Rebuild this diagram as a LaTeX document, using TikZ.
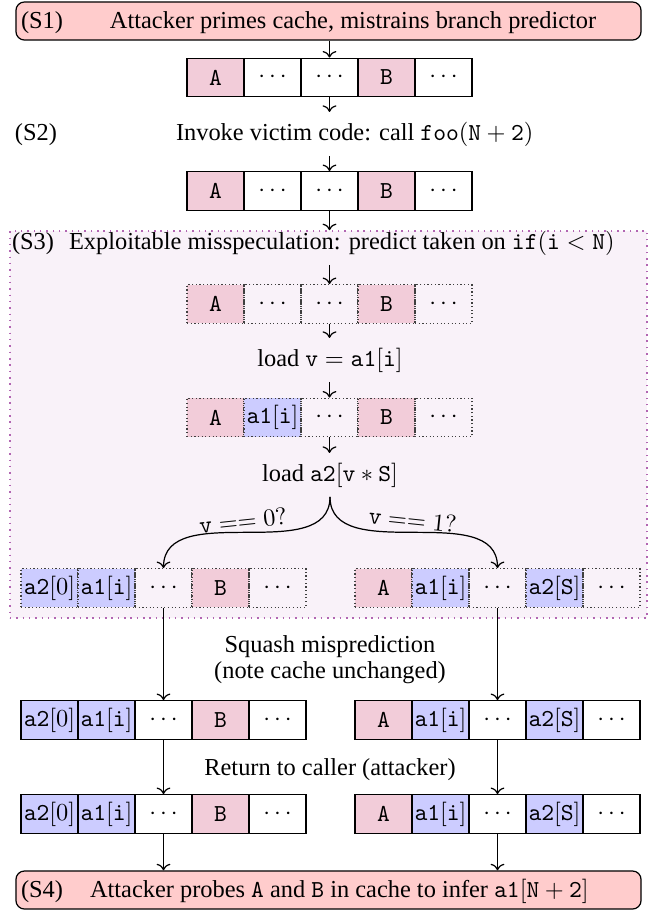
\documentclass[tikz,border=0pt]{standalone}
\usepackage[no-math]{fontspec}
\setmainfont{Liberation Serif}
\usetikzlibrary{arrows.meta}
\colorlet{cpink}{purple!20}
\colorlet{cblue}{blue!20}
\colorlet{cbanner}{red!20}
\colorlet{cspecbg}{violet!5}
\colorlet{cspecline}{violet!60}
\newcommand{\cacherow}[5]{%
  \foreach \cellc/\cellf [count=\ci] in {#5} {%
    \node[#4, fill=\cellf] (#1-\ci) at ({#2+57*(\ci-1)},#3) {\cellc};%
  }%
}
\tikzset{
  cellbox/.style={draw, line width=0.5pt, minimum width=23.4pt, minimum height=15.8pt, inner sep=0pt},
  dcellbox/.style={cellbox, densely dotted, draw=black!75},
  banner/.style={draw, line width=0.5pt, rounded corners=3.5pt, fill=cbanner, minimum width=256.3pt, minimum height=15.6pt, inner sep=0pt},
  specframe/.style={draw=cspecline, line width=0.6pt, dotted, fill=cspecbg, minimum width=261.2pt, minimum height=158.7pt, inner sep=0pt},
  lbl/.style={anchor=base west, inner sep=0pt, outer xsep=0pt, outer ysep=4pt},
  mid/.style={anchor=base, inner sep=0pt, outer ysep=4pt},
  flow/.style={->, line width=0.5pt},
  cond/.style={midway, above, inner sep=1.5pt}
}
\begin{document}
\begin{tikzpicture}[x=0.41pt, y=-0.41pt]
\useasboundingbox (0,0) rectangle (649,911);
% S3 frame
\node[specframe] (s3box) at (328.5,424.5) {};
% banners
\node[banner] (s1box) at (328.5,21) {};
\node[lbl] (s1l) at (21,28) {(S1)};
\node[lbl] (s1t) at (110,28) {Attacker primes cache, mistrains branch predictor};
\node[banner] (s4box) at (328.5,890) {};
\node[lbl] (s4l) at (21,897) {(S4)};
\node[lbl] (s4t) at (90,897) {Attacker probes \texttt{A} and \texttt{B} in cache to infer $\mathtt{a1}[\mathtt{N}+\mathtt{2}]$};
% S2 and S3 texts
\node[lbl] (s2l) at (15,140) {(S2)};
\node[lbl] (s2t) at (176,140) {Invoke victim code: call \texttt{foo}$(\mathtt{N}+\mathtt{2})$};
\node[lbl] (s3l) at (12,249) {(S3)};
\node[lbl] (s3t) at (69,249) {Exploitable misspeculation: predict taken on \texttt{if}$(\mathtt{i}<\mathtt{N})$};
\node[mid] (ldv) at (330,366) {load $\mathtt{v}=\mathtt{a1}[\mathtt{i}]$};
\node[mid] (lda) at (330,481) {load $\mathtt{a2}[\mathtt{v}*\mathtt{S}]$};
\node[mid] (sq) at (330,652) {Squash misprediction};
\node[mid] (nc) at (330,678) {(note cache unchanged)};
\node[mid] (rt) at (330,775) {Return to caller (attacker)};
% cache rows
\cacherow{r1}{215.5}{77.5}{cellbox}{\texttt{A}/cpink, $\cdots$/white, $\cdots$/white, \texttt{B}/cpink, $\cdots$/white}
\cacherow{r2}{215.5}{191}{cellbox}{\texttt{A}/cpink, $\cdots$/white, $\cdots$/white, \texttt{B}/cpink, $\cdots$/white}
\cacherow{sa}{215.5}{304}{dcellbox}{\texttt{A}/cpink, $\cdots$/none, $\cdots$/none, \texttt{B}/cpink, $\cdots$/none}
\cacherow{sb}{215.5}{417.5}{dcellbox}{\texttt{A}/cpink, $\mathtt{a1}[\mathtt{i}]$/cblue, $\cdots$/none, \texttt{B}/cpink, $\cdots$/none}
\cacherow{sl}{49.5}{588}{dcellbox}{$\mathtt{a2}[0]$/cblue, $\mathtt{a1}[\mathtt{i}]$/cblue, $\cdots$/none, \texttt{B}/cpink, $\cdots$/none}
\cacherow{sr}{383.5}{588}{dcellbox}{\texttt{A}/cpink, $\mathtt{a1}[\mathtt{i}]$/cblue, $\cdots$/none, $\mathtt{a2}[\mathtt{S}]$/cblue, $\cdots$/none}
\cacherow{tl}{49.5}{720}{cellbox}{$\mathtt{a2}[0]$/cblue, $\mathtt{a1}[\mathtt{i}]$/cblue, $\cdots$/white, \texttt{B}/cpink, $\cdots$/white}
\cacherow{tr}{383.5}{720}{cellbox}{\texttt{A}/cpink, $\mathtt{a1}[\mathtt{i}]$/cblue, $\cdots$/white, $\mathtt{a2}[\mathtt{S}]$/cblue, $\cdots$/white}
\cacherow{ul}{49.5}{814}{cellbox}{$\mathtt{a2}[0]$/cblue, $\mathtt{a1}[\mathtt{i}]$/cblue, $\cdots$/white, \texttt{B}/cpink, $\cdots$/white}
\cacherow{ur}{383.5}{814}{cellbox}{\texttt{A}/cpink, $\mathtt{a1}[\mathtt{i}]$/cblue, $\cdots$/white, $\mathtt{a2}[\mathtt{S}]$/cblue, $\cdots$/white}
% connectors
\draw[flow] (s1box.south -| r1-3) -- (r1-3.north);
\draw[flow] (r1-3.south) -- (r1-3.south |- s2t.north);
\draw[flow] (s2t.south -| r2-3) -- (r2-3.north);
\draw[flow] (r2-3.south) -- (r2-3.south |- s3box.north);
\draw[flow] (s3t.south -| sa-3) -- (sa-3.north);
\draw[flow] (sa-3.south) -- (sa-3.south |- ldv.north);
\draw[flow] (ldv.south -| sb-3) -- (sb-3.north);
\draw[flow] (sb-3.south) -- (sb-3.south |- lda.north);
\draw[flow] (lda.south) .. controls +(0,70) and +(0,-70) .. node[cond, rotate=6, xshift=-1pt] (c0) {$\mathtt{v}==0?$} (sl-3.north);
\draw[flow] (lda.south) .. controls +(0,70) and +(0,-70) .. node[cond, rotate=-6, xshift=-1pt] (c1) {$\mathtt{v}==1?$} (sr-3.north);
\draw[flow] (sl-3.south) -- (tl-3.north);
\draw[flow] (sr-3.south) -- (tr-3.north);
\draw[flow] (tl-3.south) -- (ul-3.north);
\draw[flow] (tr-3.south) -- (ur-3.north);
\draw[flow] (ul-3.south) -- (ul-3.south |- s4box.north);
\draw[flow] (ur-3.south) -- (ur-3.south |- s4box.north);
\end{tikzpicture}
\end{document}
